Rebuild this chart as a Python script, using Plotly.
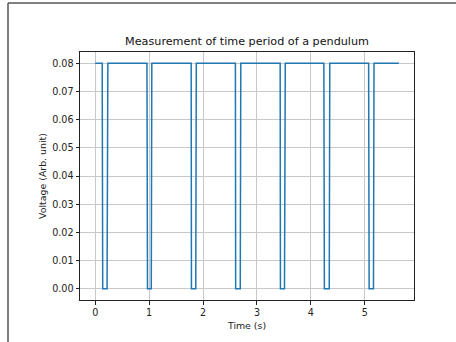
import plotly.graph_objects as go

# Time samples (s) and voltage (Arb. unit)
time_s = [0.0,
          0.13, 0.14, 0.22, 0.235,
          0.96, 0.97, 1.04, 1.05,
          1.78, 1.785, 1.865, 1.875,
          2.60, 2.605, 2.69, 2.70,
          3.43, 3.435, 3.51, 3.525,
          4.24, 4.25, 4.34, 4.35,
          5.07, 5.08, 5.16, 5.17,
          5.63]
voltage = [0.08,
           0.08, 0.0, 0.0, 0.08,
           0.08, 0.0, 0.0, 0.08,
           0.08, 0.0, 0.0, 0.08,
           0.08, 0.0, 0.0, 0.08,
           0.08, 0.0, 0.0, 0.08,
           0.08, 0.0, 0.0, 0.08,
           0.08, 0.0, 0.0, 0.08,
           0.08]

title_text = "Measurement of time period of a pendulum"
x_label = "Time (s)"
y_label = "Voltage (Arb. unit)"

W, H = 456, 342
L, R, T, B = 80, 414, 52, 300  # plot area in pixels

def px(xp):
    return (xp - L) / (R - L)

def py(yp):
    return (B - yp) / (B - T)

fig = go.Figure()
fig.add_trace(go.Scatter(x=time_s, y=voltage, mode="lines",
                         line=dict(color="#1f77b4", width=1.5),
                         showlegend=False, hoverinfo="skip"))

axis_common = dict(
    showline=True, mirror=True, linecolor="#222222", linewidth=1,
    ticks="outside", ticklen=3.5, tickcolor="#222222", tickwidth=1,
    showgrid=True, gridcolor="#c8c8c8", gridwidth=1,
    zeroline=False,
    tickfont=dict(family="DejaVu Sans", size=9.6, color="#222222"),
)

fig.update_xaxes(range=[-0.2815, 5.9115], tick0=0, dtick=1,
                 title=dict(text=x_label, font=dict(family="DejaVu Sans", size=9.4, color="#222222"), standoff=5),
                 **axis_common)
fig.update_yaxes(range=[-0.004, 0.084], tick0=0, dtick=0.01, tickformat=".2f",
                 title=dict(text=y_label, font=dict(family="DejaVu Sans", size=9.4, color="#222222"), standoff=3),
                 **axis_common)

# outer frame lines of the screenshot (top and left)
fig.add_shape(type="line", xref="paper", yref="paper",
              x0=px(8), x1=px(460), y0=py(3), y1=py(3),
              line=dict(color="#555555", width=1.5))
fig.add_shape(type="line", xref="paper", yref="paper",
              x0=px(8), x1=px(8), y0=py(3), y1=py(346),
              line=dict(color="#555555", width=1.5))

fig.update_layout(
    width=W, height=H,
    margin=dict(l=L, r=W - R, t=T, b=H - B, pad=0),
    paper_bgcolor="white", plot_bgcolor="white",
    title=dict(text=title_text, x=0.5, xref="paper", xanchor="center",
               y=1 - 41.5 / H, yanchor="middle",
               font=dict(family="DejaVu Sans", size=11.2, color="#111111")),
)

fig.write_html("out.html", config={"displayModeBar": False},
               post_script="document.body.style.margin='0';document.body.style.padding='0';document.body.style.overflow='hidden';")
